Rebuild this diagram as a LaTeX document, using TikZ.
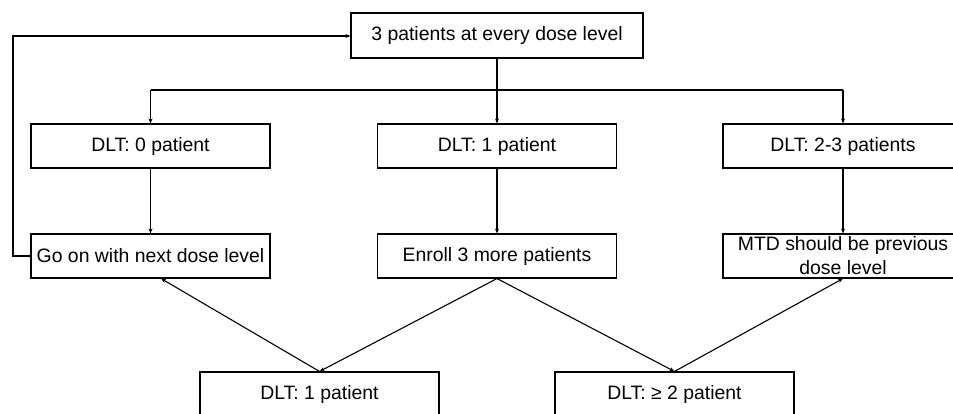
\documentclass[tikz,border=0pt]{standalone}
\usepackage{fontspec}
\setmainfont{Liberation Sans}
\usetikzlibrary{arrows.meta,positioning}
\begin{document}
\begin{tikzpicture}[x=1pt,y=1pt,
  box/.style={draw, line width=1.1pt, minimum width=239pt, minimum height=44pt, inner sep=0pt, align=center,
    font=\fontsize{19.4}{24}\selectfont},
  conn/.style={line width=1.1pt, -{Stealth[length=5pt,width=4pt]}}]
\useasboundingbox (0,0) rectangle (953,414);
\node[box, minimum width=292pt, minimum height=45pt] (top) at (497,378.5) {3 patients at every dose level};
\node[box] (a0) at (150.5,268) {DLT: 0 patient};
\node[box] (a1) at (497,268) {DLT: 1 patient};
\node[box, minimum width=240pt] (a2) at (843,268) {DLT: 2-3 patients};
\node[box] (go) at (150.5,158) {Go on with next dose level};
\node[box] (en) at (497,158) {Enroll 3 more patients};
\node[box, minimum width=240pt] (mtd) at (843,158) {MTD should be previous\\dose level};
\node[box] (d1) at (319.5,20) {DLT: 1 patient};
\node[box] (d2) at (674.5,20) {DLT: \char"2265\ 2 patient};
\coordinate (bar) at (497,324);
\coordinate (loop) at (13,378);
\draw[conn] (top.south) -- (a1.north);
\draw[line width=1.1pt] (a0.north |- bar) -- (a2.north |- bar);
\draw[conn] (a0.north |- bar) -- (a0.north);
\draw[conn] (a2.north |- bar) -- (a2.north);
\draw[conn] (a0.south) -- (go.north);
\draw[conn] (a1.south) -- (en.north);
\draw[conn] (a2.south) -- (mtd.north);
\draw[conn] (go.west) -| (loop) -- (loop -| top.west);
\draw[conn] (en.south) -- (d1.north);
\draw[conn] (en.south) -- (d2.north);
\draw[conn] (d1.north) -- ([xshift=10.5pt]go.south);
\draw[conn] (d2.north) -- (mtd.south);
\end{tikzpicture}
\end{document}
